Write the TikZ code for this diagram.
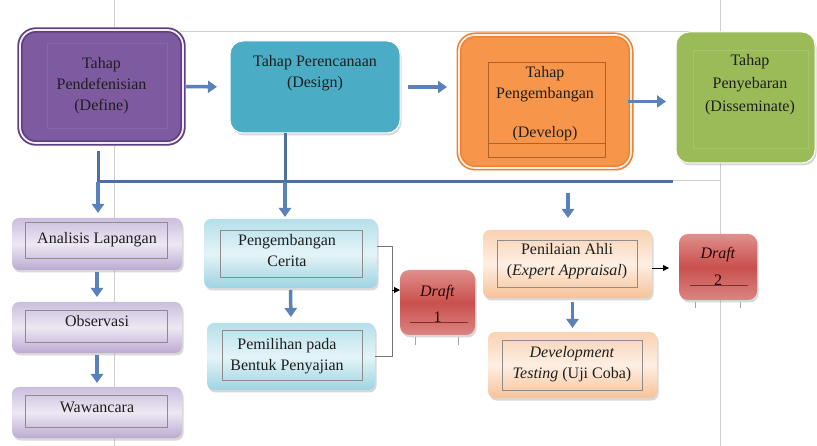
\documentclass[tikz,border=0pt]{standalone}
\usepackage{fontspec}
\setmainfont{Liberation Serif}
\usetikzlibrary{arrows.meta,shadows,calc}

\definecolor{defc}{HTML}{7E5BA0}
\definecolor{defb}{HTML}{5E3F80}
\definecolor{desc}{HTML}{4BACC6}
\definecolor{devc}{HTML}{F7964A}
\definecolor{devb}{HTML}{EE8232}
\definecolor{disc}{HTML}{9BBB59}
\definecolor{arr}{HTML}{5882B9}
\definecolor{bar}{HTML}{4C71A0}
\definecolor{bgl}{HTML}{CFCFCF}
\definecolor{txt}{HTML}{1E1E1E}
\definecolor{lpA}{HTML}{CBBEDD}
\definecolor{lpB}{HTML}{EDE8F3}
\definecolor{lpC}{HTML}{BCAAD2}
\definecolor{ltA}{HTML}{B5DFEA}
\definecolor{ltB}{HTML}{E4F4F8}
\definecolor{ltC}{HTML}{9ED3E2}
\definecolor{loA}{HTML}{F9D2B2}
\definecolor{loB}{HTML}{FDEFE3}
\definecolor{loC}{HTML}{F7C299}
\definecolor{lrA}{HTML}{E08F8C}
\definecolor{lrB}{HTML}{C9504C}
\definecolor{lrC}{HTML}{DA8583}

\begin{document}
\begin{tikzpicture}[x=1pt,y=-1pt,
  every node/.style={inner sep=0pt, outer sep=0pt},
  lbl/.style={font=\rmfamily\fontsize{16}{21}\selectfont, text=txt, align=center},
  shad/.style={drop shadow={opacity=0.3,shadow xshift=1.5pt,shadow yshift=-2.5pt}},
  topbox/.style={rounded corners=16pt, shad},
  lowbox/.style={rounded corners=7pt, shad},
  pbox/.style={lowbox, top color=lpA, bottom color=lpC, middle color=lpB},
  tbox/.style={lowbox, top color=ltA, bottom color=ltC, middle color=ltB},
  obox/.style={lowbox, top color=loA, bottom color=loC, middle color=loB},
  rbox/.style={rounded corners=9pt, shad, top color=lrA, bottom color=lrC, middle color=lrB},
  frame/.style={draw=black!45, line width=0.5pt},
  bgline/.style={draw=bgl, line width=1pt},
  flow/.style={draw=arr, line width=3.5pt, -{Triangle[width=12pt,length=9pt]}},
  stem/.style={draw=bar, line width=3pt},
  bline/.style={draw=black!55, line width=0.8pt},
  blk/.style={draw=black, line width=0.8pt, -{Triangle[width=6pt,length=6pt]}}
]
\useasboundingbox (0,0) rectangle (817,446);
\fill[white] (0,0) rectangle (817,446);

% background table lines
\draw[bgline] (114,0) -- (114,446);
\draw[bgline] (720,0) -- (720,446);
\draw[bgline] (180,32) -- (690,32);
\draw[bgline] (114,181) -- (720,181);

% top boxes
\node[topbox, name=def, minimum width=163pt, minimum height=113pt, fill=defc, draw=defb, line width=1.8pt, double=white!88!defc, double distance=1.8pt] at (101.5,86.5) {};
\node[topbox, name=des, minimum width=170pt, minimum height=92pt, fill=desc, draw=white, line width=1pt, rounded corners=13pt] at (315,87) {};
\node[topbox, name=dev, minimum width=172pt, minimum height=133pt, fill=devc, draw=devb, line width=1.6pt, double=white!85!devc, double distance=1.8pt] at (545,101.5) {};
\node[topbox, name=dis, minimum width=139pt, minimum height=131pt, fill=disc, draw=white, line width=1pt, rounded corners=13pt] at (745.5,97.5) {};

\draw[draw=defc!92!white, line width=0.5pt] (47,43) rectangle (167,128);
\draw[draw=devb!75!black, line width=0.6pt] (488,62) rectangle (605,157);
\draw[draw=devb!75!black, line width=0.6pt] (488,143) -- (605,143);
\draw[draw=disc!88!white, line width=0.5pt] (693,50) rectangle (808,148);

\node[lbl, name=deft] at (101.5,86) {Tahap\\Pendefenisian\\(Define)};
\node[lbl, name=dest] at (315,73) {Tahap Perencanaan\\(Design)};
\node[lbl, name=devt] at (545,84.5) {Tahap\\Pengembangan};
\node[lbl, name=devt2] at (545,134) {(Develop)};
\node[lbl, name=dist, font=\rmfamily\fontsize{16}{23}\selectfont] at (750,85) {Tahap\\Penyebaran\\(Disseminate)};

% lower boxes
\node[pbox, name=ana, minimum width=170pt, minimum height=52pt] at (97,244) {};
\node[pbox, name=obs, minimum width=170pt, minimum height=51pt] at (97,327.5) {};
\node[pbox, name=waw, minimum width=170pt, minimum height=51pt] at (97,412.5) {};
\draw[frame] (25,222) rectangle (167,258);
\draw[frame] (25,310) rectangle (167,342);
\draw[frame] (25,395) rectangle (167,427);
\node[lbl, name=anat] at (97,240) {Analisis Lapangan};
\node[lbl, name=obst] at (97,321) {Observasi};
\node[lbl, name=wawt] at (97,407) {Wawancara};

\node[tbox, name=peng, minimum width=173pt, minimum height=69pt] at (290.5,253.5) {};
\node[tbox, name=pem, minimum width=168pt, minimum height=67pt] at (291,356.5) {};
\draw[frame] (220,230) rectangle (362,277);
\draw[frame] (222,330) rectangle (362,380);
\node[lbl, name=pengt] at (287,251) {Pengembangan\\Cerita};
\node[lbl, name=pemt] at (287,356) {Pemilihan pada\\Bentuk Penyajian};

\node[obox, name=pen, minimum width=169pt, minimum height=68pt] at (567.5,264) {};
\node[obox, name=dvt, minimum width=169pt, minimum height=66pt] at (572.5,365) {};
\draw[frame] (497,240) rectangle (637,287);
\draw[frame] (502,340) rectangle (642,390);
\node[lbl, name=pent] at (567,261) {Penilaian Ahli\\(\textit{Expert Appraisal})};
\node[lbl, name=dvtt] at (572,364) {\textit{Development}\\\textit{Testing} (Uji Coba)};

\node[rbox, name=d1, minimum width=75pt, minimum height=65pt] at (437.5,302.5) {};
\node[rbox, name=d2, minimum width=78pt, minimum height=66pt] at (718,267) {};
\draw[draw=lrB!60!black, line width=0.5pt] (410,322) -- (468,322);
\draw[draw=lrB!60!black, line width=0.5pt] (690,285) -- (748,285);
\node[lbl, name=d1t, text=black!85!red, font=\rmfamily\fontsize{16}{26}\selectfont] at (437.5,304) {\textit{Draft}\\1};
\node[lbl, name=d2t, text=black!85!red, font=\rmfamily\fontsize{16}{27}\selectfont] at (718,266) {\textit{Draft}\\2};
\draw[bgline, draw=black!35] (415,337) -- (415,345);
\draw[bgline, draw=black!35] (458,337) -- (458,345);
\draw[bgline, draw=black!35] (695,302) -- (695,308);
\draw[bgline, draw=black!35] (740,302) -- (740,308);

% top flow
\draw[flow, shorten <=3pt, shorten >=13pt] (def.east) -- (des.west);
\draw[flow, shorten <=8pt, shorten >=12pt] (des.east) -- (des.east -| dev.west);
\draw[flow, shorten <=-3pt, shorten >=10pt] (dev.east) -- (dev.east -| dis.west);

% distribution bar
\coordinate (j1) at (98,182);
\coordinate (j2) at (285,182);
\coordinate (j3) at (568,182);
\coordinate (j4) at (673,182);
\draw[stem, shorten <=8pt] (def.south -| j1) -- (j1);
\draw[stem] (des.south -| j2) -- (j2);
\draw[stem] (j1) -- (j4);
\draw[flow, shorten >=5pt] (j1) -- (ana.north -| j1);
\draw[flow, shorten >=2pt] (j2) -- (peng.north -| j2);
\draw[flow, shorten <=11pt, shorten >=12pt] (j3) -- (pen.north -| j3);

% lower flows
\draw[flow, shorten <=2pt, shorten >=5pt] (ana.south) -- (obs.north);
\draw[flow, shorten <=2pt, shorten >=4pt] (obs.south) -- (waw.north);
\draw[flow, shorten <=2pt, shorten >=6pt] (peng.south) -- (pem.north);
\draw[flow, shorten <=4pt, shorten >=4pt] (dvt.north |- pen.south) -- (dvt.north);

% bracket to draft 1
\coordinate (bk) at (392,290);
\draw[bline] ([yshift=7pt]peng.east) -- ([yshift=7pt]peng.east -| bk) -- (pem.east -| bk) -- (pem.east);
\draw[blk] (bk) -- (bk -| d1.west);
\draw[blk, shorten >=10pt] ([yshift=-4pt]pen.east) -- ([yshift=-4pt]pen.east -| d2.west);
\end{tikzpicture}
\end{document}
